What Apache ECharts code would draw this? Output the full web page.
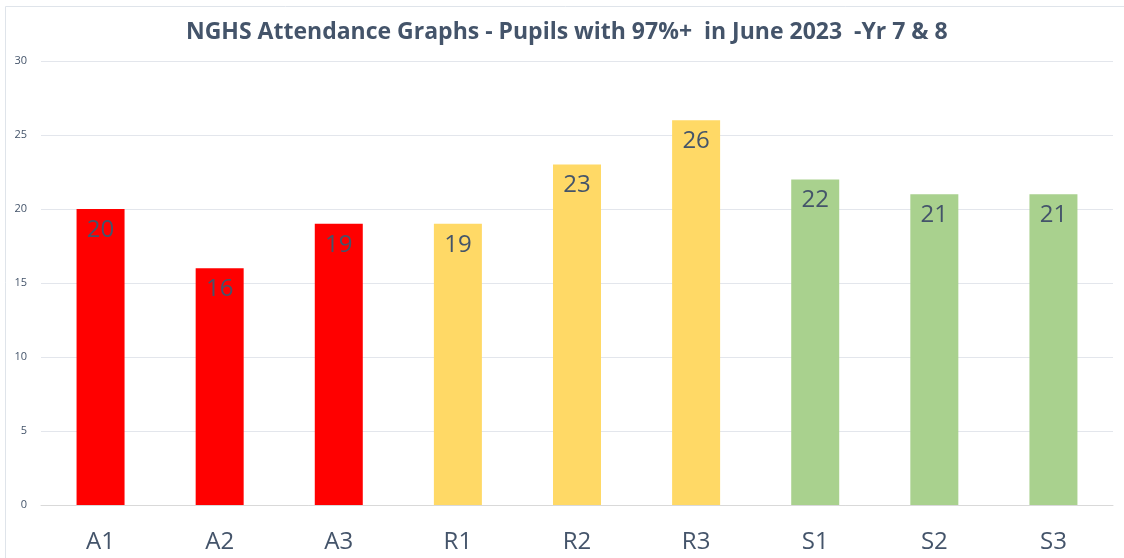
<!DOCTYPE html>
<html><head><meta charset="utf-8">
<script src="https://cdn.jsdelivr.net/npm/echarts@6/dist/echarts.min.js"></script>
<style>html,body{margin:0;padding:0;background:#fff}#c{width:1124px;height:558px}</style>
</head><body><div id="c"></div>
<script>
const categories = ['A1','A2','A3','R1','R2','R3','S1','S2','S3'];
const values = [20,16,19,19,23,26,22,21,21];
const barColors = ['#FF0000','#FF0000','#FF0000','#FFD966','#FFD966','#FFD966','#A9D18E','#A9D18E','#A9D18E'];
const yTicks = [0,5,10,15,20,25,30];
const titleText = 'NGHS Attendance Graphs - Pupils with 97%+  in June 2023  -Yr 7 & 8';

const chart = echarts.init(document.getElementById('c'), null, {renderer:'canvas'});
chart.setOption({
  animation:false,
  backgroundColor:'#fff',
  graphic:[{type:'rect',shape:{x:5.5,y:6.5,width:1130,height:560},style:{fill:'none',stroke:'#dfe4ea',lineWidth:1},silent:true}],
  title:{text:titleText,left:181,top:16,textStyle:{fontFamily:'Open Sans',fontWeight:'bold',fontSize:23,color:'#44546A'}},
  grid:{left:41,right:11,top:61,bottom:53,containLabel:false},
  xAxis:{type:'category',data:categories,axisLine:{show:true,lineStyle:{color:'#D9D9D9'}},axisTick:{show:false},
    axisLabel:{fontFamily:'Open Sans',fontSize:24,color:'#44546A',margin:25}},
  yAxis:{type:'value',min:yTicks[0],max:yTicks[yTicks.length-1],interval:5,
    axisLine:{show:false},axisTick:{show:false},
    splitLine:{lineStyle:{color:'#E3E6EC'}},
    axisLabel:{fontFamily:'Open Sans',fontSize:11,color:'#44546A',margin:14}},
  series:[{type:'bar',data:values.map((v,i)=>({value:v,itemStyle:{color:barColors[i]}})),barWidth:48,
    label:{show:true,position:'insideTop',distance:9,fontFamily:'Open Sans',fontSize:24,color:'#44546A'}}]
});
</script></body></html>
